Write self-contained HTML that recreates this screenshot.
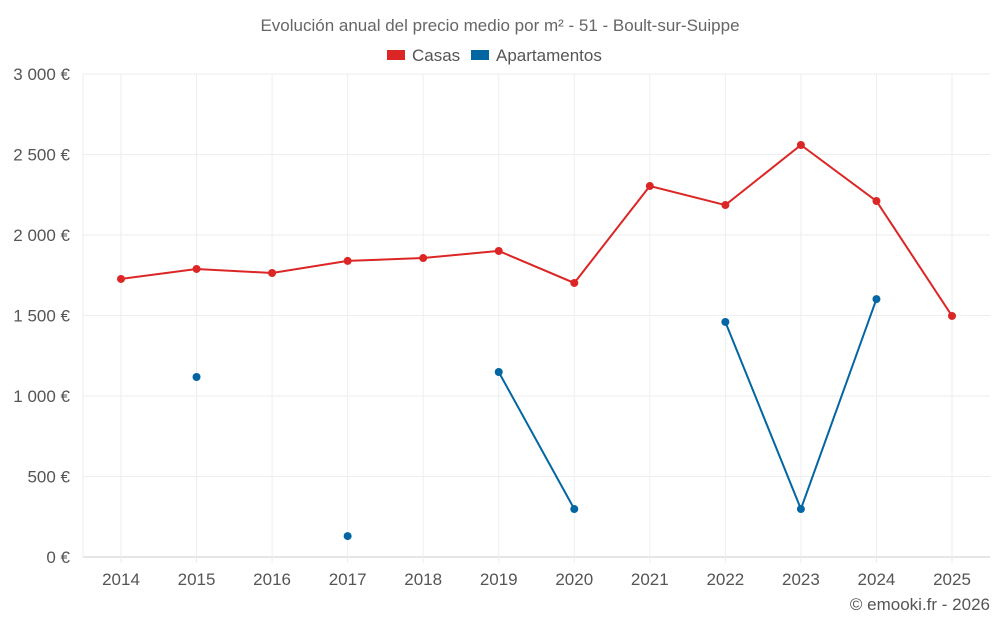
<!DOCTYPE html>
<html><head><meta charset="utf-8"><style>
body{margin:0;background:#fff;font-family:"Liberation Sans",sans-serif}
</style></head><body>
<svg width="1000" height="625" xmlns="http://www.w3.org/2000/svg" font-family="Liberation Sans, sans-serif">
<text x="500" y="31" text-anchor="middle" font-size="17" fill="#666">Evolución anual del precio medio por m² - 51 - Boult-sur-Suippe</text>
<g><rect x="387" y="50" width="18" height="10" fill="#dc2626"/><text x="412" y="61" font-size="17" fill="#555">Casas</text></g>
<g><rect x="471" y="50" width="18" height="10" fill="#0266a3"/><text x="496" y="61" font-size="17" fill="#555">Apartamentos</text></g>
<g id="grid"></g><g id="axes"></g><g id="series"></g>
<text x="990" y="610" text-anchor="end" font-size="17" fill="#555">© emooki.fr - 2026</text>
</svg>
<script>
const years=[2014,2015,2016,2017,2018,2019,2020,2021,2022,2023,2024,2025];
const casas=[1727,1789,1764,1839,1857,1901,1702,2304,2186,2559,2211,1497];
const apartamentos=[null,1118,null,130,null,1149,298,null,1460,298,1602,null];
const yTicks=[0,500,1000,1500,2000,2500,3000];
const yLabels=["0 €","500 €","1 000 €","1 500 €","2 000 €","2 500 €","3 000 €"];
const NS="http://www.w3.org/2000/svg";
const x0=83,x1=990,yb=557,yt=74;
const xs=i=>121+i*(952-121)/(years.length-1);
const ys=v=>yb-(v/3000)*(yb-yt);
function mk(p,t,a){const e=document.createElementNS(NS,t);for(const k in a)e.setAttribute(k,a[k]);p.appendChild(e);return e;}
const g=document.getElementById('grid'),ax=document.getElementById('axes'),s=document.getElementById('series');
yTicks.forEach((v,i)=>{
 const l=mk(g,'line',{x1:x0,x2:x1,y1:ys(v),y2:ys(v),stroke:i==0?'#ccc':'#eee'});
 
 
 const t=mk(ax,'text',{x:70,y:ys(v)+6,'text-anchor':'end','font-size':17,fill:'#555'});t.textContent=yLabels[i];
 
 
});
const lv=mk(g,'line',{x1:x0,x2:x0,y1:yt,y2:yb,stroke:'#eee'});


years.forEach((y,i)=>{
 const l=mk(g,'line',{x1:xs(i),x2:xs(i),y1:yt,y2:yb+6,stroke:'#eee'});
 
 
 const t=mk(ax,'text',{x:xs(i),y:585,'text-anchor':'middle','font-size':17,fill:'#555'});t.textContent=y;
 
 
});
function draw(vals,color,name){
 let seg=[];const segs=[];
 vals.forEach((v,i)=>{if(v==null){if(seg.length)segs.push(seg);seg=[];}else seg.push([xs(i),ys(v)]);});
 if(seg.length)segs.push(seg);
 segs.forEach(sg=>{if(sg.length>1){const p=mk(s,'polyline',{points:sg.map(q=>q.join(',')).join(' '),fill:'none',stroke:color,'stroke-width':2});
  
  }});
 vals.forEach((v,i)=>{if(v==null)return;const c=mk(s,'circle',{cx:xs(i),cy:ys(v),r:4,fill:color});
  
  });
}
draw(casas,'#dc2626','casas');
draw(apartamentos,'#0266a3','apartamentos');
</script>
</body></html>
